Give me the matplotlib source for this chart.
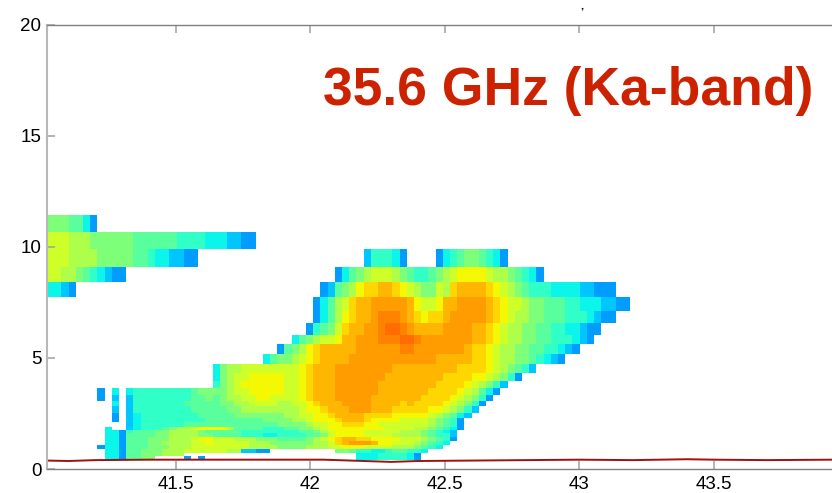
import numpy as np
import matplotlib
matplotlib.use('Agg')
import matplotlib.pyplot as plt
from matplotlib.colors import ListedColormap

plt.rcParams['font.family'] = ['Liberation Sans', 'DejaVu Sans']

# heights of the range gates, km (top to bottom)
gate_edges = [11.44, 10.68, 9.91, 9.10, 8.42, 7.75, 7.12, 6.58, 6.04, 5.63, 5.18,
              4.73, 4.32, 3.96, 3.65, 3.33, 3.06, 2.84, 2.52, 2.30, 2.12, 1.89,
              1.76, 1.62, 1.44, 1.26, 1.08, 0.90, 0.72, 0.59, 0.41]

# reflectivity level per cell, one hex digit (0 low ... d high), '.' = no signal
gates = [
    '5554420',
    '7776665555' + '5544444433' + '332221100',
    '7776666555' + '5544322110' + '0' + '.' * 23 + '133320' + '....' + '0234554320',
    '77665432100' + '.' * 29 + '024567776543345678888' + '76654320',
    '2210' + '.' * 34 + '014568' + '99aa98' + '76557' + '69aaaa' + '987654333222211000',
    '.' * 37 + '02467' + '9aabbbbb' + 'a8778aabbbb' + 'a98776554443322211' + '00',
    '.' * 37 + '02468' + '9aabcccb' + 'a9899abbbbb' + 'a98766554443332100',
    '.' * 36 + '034579' + 'aabbcddc' + 'baaaabbbbaa' + '9876655443322100',
    '.' * 34 + '2456778aabbbcccd' + 'dcbbbbbbbaa' + '987665544333210',
    '.' * 32 + '045689aaaaabbbbbbc' + 'cbbbbbbba' + '998766554433210',
    '.' * 30 + '24556789aaaabbbbbbbb' + 'bbbbaaaaa' + '9987665543210',
    '.' * 23 + '256677777777' + '89aaabbbbbbbbaa' + 'aaaaaaa99' + '998765431',
    '.' * 23 + '256778888877' + '89aaabbbbbbbaaa' + 'aaaaa9999' + '8876530',
    '.' * 23 + '356788888877' + '89aaabbbbbbaaaa' + 'aaaa99998' + '76531',
    '.......0.2.' + '233333333455' + '556778888877' + '89aaabbbbbbaaaa' + 'aaa999987' + '6420',
    '.......0.1.' + '133333333445' + '456677887777' + '89aaabbbbbaaaaa' + 'aa9999876' + '530',
    '.........2.' + '133333334444' + '455667777667' + '789aaabbbbaaaa9' + 'a9999876530',
    '.........1.' + '133333333444' + '445566666666' + '7889aaabbbaaa99' + '9998876531',
    '.........0.' + '123333333344' + '444555555566' + '77889aaaa999988' + '888765421',
    '.........0.' + '123333333334' + '444444455556' + '678889aaa988887' + '77765430',
    '...........' + '123333334444' + '444444444555' + '567788999887777' + '77765430',
    '........2..' + '123334566788' + '886444433344' + '556788888888777' + '76654320',
    '........220' + '344455666654' + '444433333333' + '445678888777776' + '6654321',
    '........220' + '444455666655' + '444433322333' + '344578888777766' + '6654331',
    '........220' + '444555666788' + '777666555444' + '456789aa9988887' + '7765430',
    '........220' + '444556666778' + '777776665555' + '556679abbba8877' + '765432',
    '.......0220' + '444555666777' + '777776666555' + '566677888777766' + '65432',
    '........220' + '445556667777' + '77661100' + '.' * 9 + '5543322344332',
    '........220' + '44555666' + '.' * 24 + '222333320',
    '........220' + '4455' + '....' + '0.0' + '.' * 21 + '222333320',
]

# melting layer / ground line
line_x = [41.02, 41.1, 41.2, 41.4, 41.7, 41.9, 42.05, 42.2, 42.3, 42.4, 42.6, 42.8,
          43.0, 43.2, 43.4, 43.5, 43.7, 43.94]
line_y = [0.38, 0.36, 0.40, 0.42, 0.42, 0.42, 0.42, 0.36, 0.32, 0.36, 0.38, 0.40,
          0.42, 0.40, 0.44, 0.42, 0.40, 0.42]

x_ticks = [41.5, 42, 42.5, 43, 43.5]
x_labels = ['41.5', '42', '42.5', '43', '43.5']
y_ticks = [0, 5, 10, 15, 20]

# where each level sits on jet
jet_pos = [0.28, 0.32, 0.365, 0.41, 0.46, 0.50, 0.56, 0.60, 0.645, 0.68, 0.715, 0.745, 0.77, 0.795]

n_cols = 82
x_start = 41.02
col_width = 0.02677

grid = np.full((len(gates), n_cols), np.nan)
for i, row in enumerate(gates):
    for j, ch in enumerate(row[:n_cols]):
        if ch != '.':
            grid[i, j] = int(ch, 16)

x_edges = x_start + col_width * np.arange(n_cols + 1)
level_cmap = ListedColormap(plt.cm.jet(jet_pos))

fig = plt.figure(figsize=(8.32, 4.93), dpi=100)
ax = fig.add_axes([47 / 832, 1 - 469 / 493, 785 / 832, 444 / 493])

ax.pcolormesh(x_edges, gate_edges, grid, cmap=level_cmap, vmin=-0.5, vmax=13.5, shading='flat')
ax.plot(line_x, line_y, color='#a01010', lw=1.4)

ax.set_xlim(41.02, 43.94)
ax.set_ylim(0, 20)
ax.set_xticks(x_ticks)
ax.set_xticklabels(x_labels)
ax.set_yticks(y_ticks)
ax.tick_params(axis='both', direction='in', top=True, length=5.5, width=1.1, color='#a0a0a0',
               labelsize=13.5, labelcolor='black')
ax.tick_params(axis='x', pad=5)
ax.tick_params(axis='y', pad=4)

ax.spines['right'].set_visible(False)
for side in ['top', 'bottom']:
    ax.spines[side].set_color('#808080')
    ax.spines[side].set_linewidth(1)
ax.spines['left'].set_color('#b8b8b8')
ax.spines['left'].set_linewidth(1.5)

fig.text(568 / 832, 1 - 91 / 493, '35.6 GHz (Ka-band)', color='#cc2200', fontsize=38.5,
         fontweight='bold', ha='center', va='center')
fig.text(582 / 832, 1 - 8 / 493, ',', color='black', fontsize=8, fontweight='bold',
         ha='center', va='baseline')

fig.savefig('out.png', dpi=100)
